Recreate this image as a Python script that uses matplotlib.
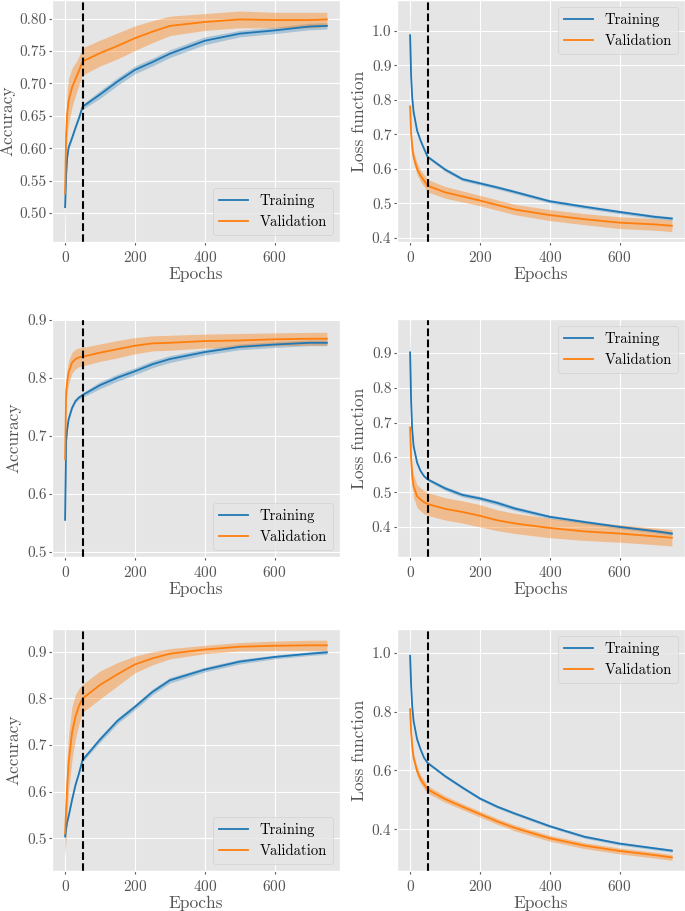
import numpy as np
import matplotlib
matplotlib.use("Agg")
import matplotlib.pyplot as plt

plt.style.use("ggplot")
plt.rcParams["font.family"] = "serif"
plt.rcParams["font.serif"] = ["cmr10", "DejaVu Serif"]
plt.rcParams["mathtext.fontset"] = "cm"
plt.rcParams["axes.formatter.use_mathtext"] = True

epochs = [0, 3, 6, 10, 20, 30, 40, 50, 100, 150, 200, 250, 300, 400, 500, 600, 700, 750]

# row 1
acc1_train = [0.509, 0.559, 0.585, 0.601, 0.616, 0.632, 0.647, 0.664, 0.683, 0.703, 0.721, 0.733, 0.746, 0.766, 0.777, 0.782, 0.788, 0.789]
acc1_train_sd = [0.04, 0.006, 0.003, 0.003, 0.003, 0.003, 0.003, 0.004, 0.006, 0.006, 0.006, 0.006, 0.006, 0.006, 0.005, 0.005, 0.005, 0.005]
acc1_val = [0.530, 0.622, 0.653, 0.673, 0.694, 0.707, 0.720, 0.734, 0.747, 0.758, 0.770, 0.780, 0.789, 0.795, 0.799, 0.798, 0.798, 0.799]
acc1_val_sd = [0.01, 0.03, 0.035, 0.035, 0.03, 0.025, 0.022, 0.021, 0.02, 0.02, 0.019, 0.017, 0.015, 0.013, 0.013, 0.012, 0.012, 0.011]
loss1_train = [0.987, 0.866, 0.808, 0.765, 0.711, 0.682, 0.658, 0.635, 0.598, 0.570, 0.558, 0.546, 0.533, 0.506, 0.490, 0.475, 0.461, 0.456]
loss1_train_sd = [0.07, 0.01, 0.003, 0.003, 0.003, 0.003, 0.003, 0.004, 0.005, 0.005, 0.005, 0.005, 0.005, 0.005, 0.005, 0.005, 0.005, 0.005]
loss1_val = [0.781, 0.702, 0.663, 0.634, 0.600, 0.580, 0.566, 0.551, 0.532, 0.520, 0.508, 0.495, 0.482, 0.466, 0.454, 0.444, 0.439, 0.435]
loss1_val_sd = [0.005, 0.012, 0.017, 0.017, 0.017, 0.017, 0.017, 0.018, 0.017, 0.016, 0.015, 0.015, 0.015, 0.016, 0.016, 0.017, 0.017, 0.017]

# row 2
acc2_train = [0.555, 0.690, 0.711, 0.728, 0.748, 0.760, 0.766, 0.770, 0.787, 0.800, 0.811, 0.823, 0.832, 0.844, 0.853, 0.857, 0.860, 0.860]
acc2_train_sd = [0.03, 0.006, 0.003, 0.003, 0.003, 0.003, 0.003, 0.004, 0.006, 0.006, 0.006, 0.006, 0.006, 0.005, 0.005, 0.005, 0.005, 0.005]
acc2_val = [0.659, 0.775, 0.794, 0.809, 0.826, 0.832, 0.835, 0.836, 0.843, 0.849, 0.855, 0.859, 0.860, 0.863, 0.864, 0.866, 0.867, 0.867]
acc2_val_sd = [0.01, 0.02, 0.02, 0.02, 0.018, 0.017, 0.016, 0.016, 0.015, 0.015, 0.014, 0.013, 0.013, 0.012, 0.012, 0.011, 0.011, 0.011]
loss2_train = [0.902, 0.758, 0.681, 0.633, 0.585, 0.561, 0.546, 0.537, 0.511, 0.492, 0.482, 0.469, 0.453, 0.429, 0.414, 0.400, 0.388, 0.381]
loss2_train_sd = [0.07, 0.01, 0.003, 0.003, 0.003, 0.003, 0.003, 0.004, 0.006, 0.006, 0.006, 0.006, 0.006, 0.005, 0.005, 0.005, 0.005, 0.005]
loss2_val = [0.686, 0.594, 0.546, 0.517, 0.488, 0.479, 0.471, 0.466, 0.452, 0.443, 0.432, 0.419, 0.410, 0.397, 0.387, 0.381, 0.373, 0.369]
loss2_val_sd = [0.01, 0.025, 0.03, 0.033, 0.033, 0.033, 0.033, 0.033, 0.032, 0.032, 0.032, 0.030, 0.029, 0.028, 0.026, 0.025, 0.024, 0.024]

# row 3
acc3_train = [0.504, 0.520, 0.535, 0.547, 0.583, 0.615, 0.640, 0.668, 0.712, 0.752, 0.782, 0.814, 0.839, 0.862, 0.879, 0.889, 0.896, 0.899]
acc3_train_sd = [0.04, 0.005, 0.003, 0.003, 0.003, 0.003, 0.003, 0.004, 0.006, 0.006, 0.006, 0.006, 0.006, 0.005, 0.005, 0.004, 0.004, 0.004]
acc3_val = [0.511, 0.562, 0.612, 0.662, 0.727, 0.762, 0.784, 0.800, 0.829, 0.852, 0.873, 0.886, 0.896, 0.905, 0.911, 0.913, 0.914, 0.914]
acc3_val_sd = [0.05, 0.055, 0.06, 0.06, 0.057, 0.047, 0.038, 0.03, 0.03, 0.025, 0.018, 0.014, 0.011, 0.009, 0.009, 0.010, 0.011, 0.011]
loss3_train = [0.989, 0.887, 0.819, 0.768, 0.706, 0.672, 0.643, 0.626, 0.581, 0.542, 0.505, 0.477, 0.454, 0.411, 0.375, 0.352, 0.336, 0.328]
loss3_train_sd = [0.07, 0.01, 0.003, 0.003, 0.003, 0.003, 0.003, 0.004, 0.005, 0.005, 0.005, 0.005, 0.005, 0.005, 0.005, 0.005, 0.005, 0.005]
loss3_val = [0.808, 0.728, 0.683, 0.643, 0.598, 0.570, 0.553, 0.536, 0.503, 0.477, 0.452, 0.427, 0.405, 0.370, 0.345, 0.327, 0.313, 0.305]
loss3_val_sd = [0.01, 0.015, 0.015, 0.015, 0.015, 0.015, 0.015, 0.013, 0.011, 0.010, 0.010, 0.010, 0.010, 0.010, 0.010, 0.010, 0.010, 0.010]

stop_epoch = 50

W, H = 685, 911
fig = plt.figure(figsize=(W / 100, H / 100), dpi=100)

# (left, top, width, height) in pixels for each panel
boxes = [[(52, 0, 288, 242), (397, 0, 288, 242)],
         [(52, 319, 288, 238), (397, 319, 288, 238)],
         [(52, 629, 288, 242), (397, 629, 288, 242)]]
# right edge of the y label, in pixels from the figure's left
ylab_right = [[15, 367], [21, 367], [21, 367]]

panels = [
    [(acc1_train, acc1_train_sd, acc1_val, acc1_val_sd, "Accuracy", (0.455, 0.829), np.arange(0.50, 0.81, 0.05), "%.2f", "lower right"),
     (loss1_train, loss1_train_sd, loss1_val, loss1_val_sd, "Loss function", (0.388, 1.089), np.arange(0.4, 1.01, 0.1), "%.1f", "upper right")],
    [(acc2_train, acc2_train_sd, acc2_val, acc2_val_sd, "Accuracy", (0.491, 0.901), np.arange(0.5, 0.91, 0.1), "%.1f", "lower right"),
     (loss2_train, loss2_train_sd, loss2_val, loss2_val_sd, "Loss function", (0.3135, 0.998), np.arange(0.4, 0.91, 0.1), "%.1f", "upper right")],
    [(acc3_train, acc3_train_sd, acc3_val, acc3_val_sd, "Accuracy", (0.430, 0.949), np.arange(0.5, 0.91, 0.1), "%.1f", "lower right"),
     (loss3_train, loss3_train_sd, loss3_val, loss3_val_sd, "Loss function", (0.259, 1.08), np.arange(0.4, 1.01, 0.2), "%.1f", "upper right")],
]

ep = np.array(epochs)
for r in range(3):
    for c in range(2):
        tr, tr_sd, va, va_sd, ylab, ylim, yt, fmt, loc = panels[r][c]
        x0, y0, w, h = boxes[r][c]
        ax = fig.add_axes([x0 / W, 1 - (y0 + h) / H, w / W, h / H])
        tr, tr_sd, va, va_sd = map(np.array, (tr, tr_sd, va, va_sd))
        ax.fill_between(ep, tr - tr_sd, tr + tr_sd, color="#1f77b4", alpha=0.3, lw=0)
        ax.fill_between(ep, va - va_sd, va + va_sd, color="#ff7f0e", alpha=0.4, lw=0)
        ax.plot(ep, tr, color="#1f77b4", lw=1.3, label="Training")
        ax.plot(ep, va, color="#ff7f0e", lw=1.3, label="Validation")
        ax.axvline(stop_epoch, color="k", ls="--", lw=1.5)
        ax.set_xlim(-37.5, 787.5)
        ax.set_ylim(*ylim)
        ax.set_xticks([0, 200, 400, 600])
        ax.set_yticks(yt)
        ax.set_yticklabels([fmt % v for v in yt])
        ax.tick_params(labelsize=11, length=2.5)
        ax.tick_params(axis="y", pad=1.5)
        ax.tick_params(axis="x", pad=3.5)
        ax.set_xlabel("Epochs", fontsize=12.5)
        ax.set_ylabel(ylab, fontsize=12.5)
        ax.xaxis.set_label_coords(0.5, -25 / h)
        ax.yaxis.set_label_coords((ylab_right[r][c] - x0) / w, 0.5)
        ax.legend(loc=loc, fontsize=10.5)

fig.savefig("out.png", dpi=100)
